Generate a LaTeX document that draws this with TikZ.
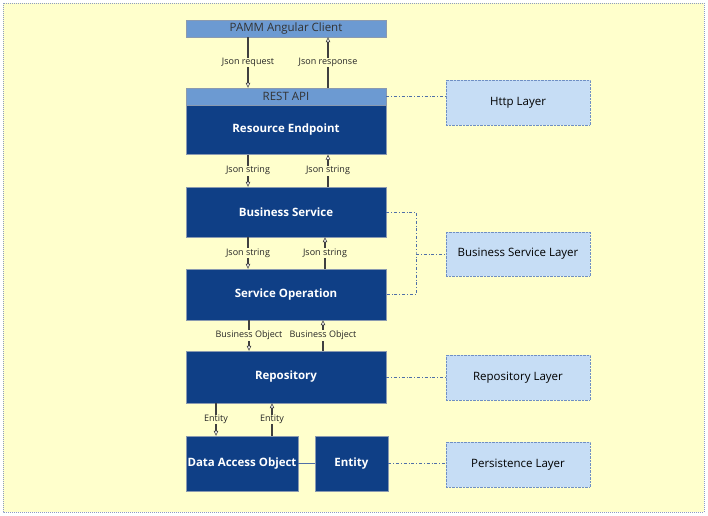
\documentclass[tikz,border=0pt]{standalone}
\usepackage{fontspec}
\setmainfont{Open Sans}
\usetikzlibrary{arrows.meta,positioning,calc}
\definecolor{paper}{HTML}{FFFFCC}
\definecolor{frame}{HTML}{8C9CC4}
\definecolor{navy}{HTML}{0F3F86}
\definecolor{steel}{HTML}{6C9AD2}
\definecolor{edge}{HTML}{8A9AB0}
\definecolor{sky}{HTML}{C6DDF5}
\definecolor{laybd}{HTML}{6F8FC4}
\definecolor{wire}{HTML}{404040}
\definecolor{dots}{HTML}{4F6FA8}

\begin{document}
\begin{tikzpicture}[x=1pt,y=-1pt,
  tier/.style={draw=edge,fill=navy,text=white,font=\fontsize{11.5}{14}\selectfont\bfseries,minimum width=200pt,inner sep=0pt},
  band/.style={draw=edge,fill=steel,text=black!80,font=\fontsize{11.5}{13}\selectfont,minimum width=200pt,minimum height=17pt,inner sep=0pt},
  layer/.style={draw=laybd,densely dotted,fill=sky,text=black,font=\fontsize{11.5}{13}\selectfont,minimum width=144pt,minimum height=45pt,inner sep=0pt},
  flow/.style={draw=wire,line width=1.3pt,-{Triangle[fill=white,length=5pt,width=4.5pt,line width=0.6pt]}},
  tag/.style={fill=paper,inner sep=0.6pt,font=\fontsize{9}{10}\selectfont,text=black!85},
  link/.style={draw=dots,line width=0.7pt,dash dot}]
  \useasboundingbox (0,0) rectangle (708,515);
  \draw[frame,densely dotted,line width=1pt,fill=paper] (3,3) rectangle (704,512);

  \node[band] (client) at (286,28.5) {PAMM Angular Client};
  \node[band] (rest) at (286,96.5) {REST API};
  \node[tier,minimum height=49pt,below=0pt of rest] (endpoint) {Resource Endpoint};
  \node[tier,minimum height=50pt] (business) at (286,212) {Business Service};
  \node[tier,minimum height=51pt] (serviceop) at (286,294.5) {Service Operation};
  \node[tier,minimum height=52pt] (repo) at (286,377) {Repository};
  \node[tier,minimum width=112pt,minimum height=55pt] (dao) at (242,463.5) {Data Access Object};
  \node[tier,minimum width=73pt,minimum height=55pt] (entity) at (351.5,463.5) {Entity};

  \node[layer] (httplayer) at (518,102.5) {Http Layer};
  \node[layer,minimum height=44pt] (servicelayer) at (518,254) {Business Service Layer};
  \node[layer] (repolayer) at (518,377.5) {Repository Layer};
  \node[layer] (persistlayer) at (518,464.5) {Persistence Layer};

  \foreach \up/\dn/\xd/\xu/\td/\tu in {client/rest/248/328/Json request/Json response,
                                      endpoint/business/248/328/Json string/Json string,
                                      business/serviceop/248/325/Json string/Json string,
                                      serviceop/repo/249/323/Business Object/Business Object,
                                      repo/dao/216/272/Entity/Entity}
    { \draw[flow] (\xd,0 |- \up.south) -- node[tag] {\td} (\xd,0 |- \dn.north);
      \draw[flow] (\xu,0 |- \dn.north) -- node[tag] {\tu} (\xu,0 |- \up.south); }

  \draw[dots,line width=0.8pt] (dao.east) -- (entity.west);

  \coordinate (bend) at (416,254);
  \draw[link] (rest.east) -- (httplayer.west |- rest.east);
  \draw[link] (business.east) -| (bend) |- (serviceop.east);
  \draw[link] (bend) -- (servicelayer.west);
  \draw[link] (repo.east) -- (repolayer.west |- repo.east);
  \draw[link] (entity.east) -- (persistlayer.west |- entity.east);
\end{tikzpicture}
\end{document}
